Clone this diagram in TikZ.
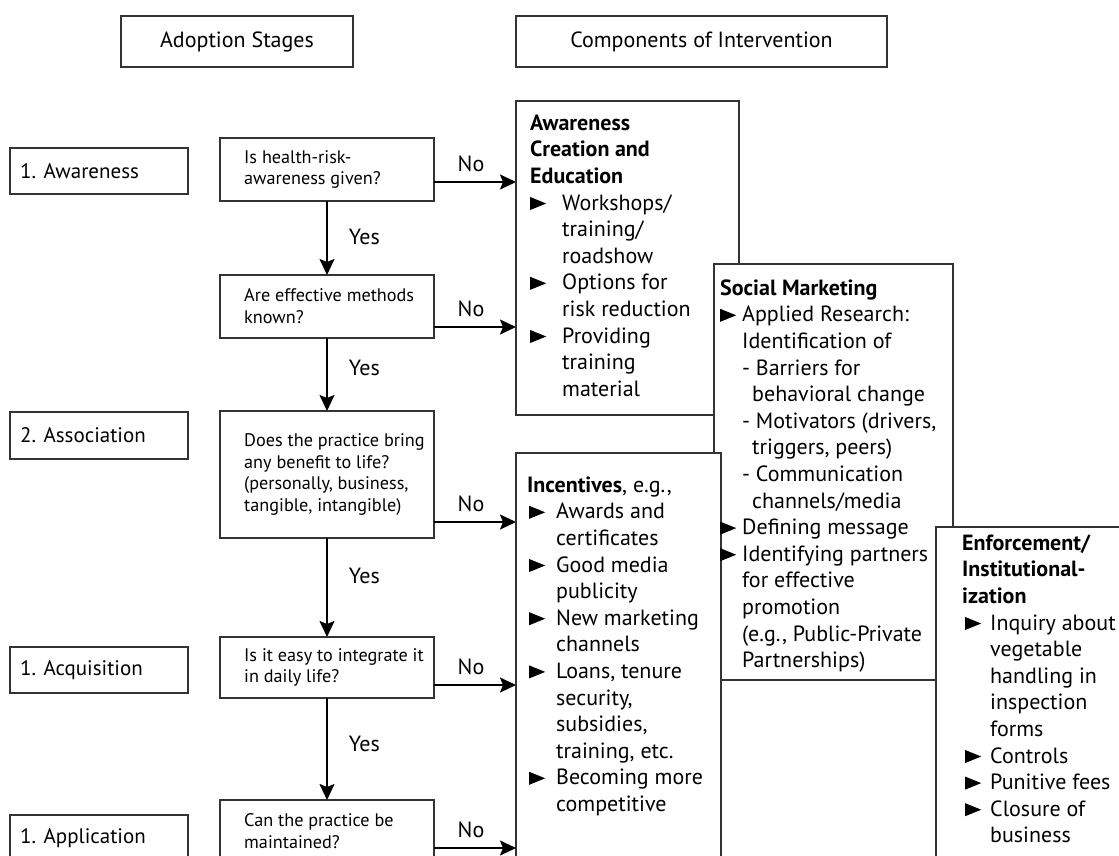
\documentclass[tikz,border=0pt]{standalone}
\usepackage{fontspec}
\setmainfont{PT Sans}
\usetikzlibrary{arrows.meta,calc}
\newcommand\bsz{\fontsize{22}{26.6}\selectfont}
\newcommand\ssz{\fontsize{21}{25}\selectfont}
\newcommand\qsz{\fontsize{18.2}{21.8}\selectfont}
\newcommand\tri{\tikz[baseline=0pt]\fill (0pt,0pt) -- (0pt,13pt) -- (16pt,6.5pt) -- cycle;}
\newcommand\bul[1]{\makebox[#1][l]{\tri}}
\newcommand\ind[1]{\hspace*{#1}}
\newcommand\fl{\rule{0pt}{20pt}}
\begin{document}
\begin{tikzpicture}[x=1pt,y=-1pt,
  box/.style={draw=black!80, line width=1.2pt, fill=white, anchor=north west, inner sep=0pt, outer sep=0pt},
  arr/.style={line width=1.9pt, -{Stealth[length=16pt,width=15pt,inset=3pt]}},
  lbl/.style={font=\bsz, inner sep=0pt},
  qtxt/.style={font=\qsz, align=left, inner sep=0pt, anchor=west},
  stxt/.style={font=\ssz, inner sep=0pt, anchor=west},
  ctxt/.style={font=\bsz, align=left, inner sep=0pt, anchor=north west}]
\useasboundingbox (0,0) rectangle (1119,855);
\clip (0,0) rectangle (1119,855);

% headers
\node[box, minimum width=232pt, minimum height=51pt, font=\bsz] (hA) at (121,16) {Adoption Stages};
\node[box, minimum width=371pt, minimum height=51pt, font=\bsz] (hC) at (516,16) {Components of Intervention};

% stage boxes
\node[box, minimum width=178pt, minimum height=46pt] (s1) at (10,148) {};
\node[stxt] (s1t) at ([xshift=10pt]s1.west) {1. Awareness};
\node[box, minimum width=178pt, minimum height=47pt] (s2) at (10,412) {};
\node[stxt] (s2t) at ([xshift=10pt]s2.west) {2. Association};
\node[box, minimum width=178pt, minimum height=46pt] (s3) at (10,647) {};
\node[stxt] (s3t) at ([xshift=10pt]s3.west) {1. Acquisition};
\node[box, minimum width=178pt, minimum height=47pt] (s4) at (10,815) {};
\node[stxt] (s4t) at ([xshift=10pt]s4.west) {1. Application};

% question boxes
\node[box, minimum width=214pt, minimum height=63pt] (q1) at (220,138) {};
\node[qtxt] (q1t) at ([xshift=24pt]q1.west) {Is health-risk-\\awareness given?};
\node[box, minimum width=214pt, minimum height=63pt] (q2) at (220,275) {};
\node[qtxt] (q2t) at ([xshift=24pt]q2.west) {Are effective methods\\known?};
\node[box, minimum width=214pt, minimum height=127pt] (q3) at (220,411) {};
\node[qtxt] (q3t) at ([xshift=24pt]q3.west) {Does the practice bring\\any benefit to life?\\(personally, business,\\tangible, intangible)};
\node[box, minimum width=214pt, minimum height=61pt] (q4) at (220,637) {};
\node[qtxt] (q4t) at ([xshift=24pt]q4.west) {Is it easy to integrate it\\in daily life?};
\node[box, minimum width=214pt, minimum height=63pt] (q5) at (220,800) {};
\node[qtxt] (q5t) at ([xshift=24pt]q5.west) {Can the practice be\\maintained?};

% component boxes
\node[box, minimum width=223pt, minimum height=314pt] (aw) at (516,101) {};
\node[ctxt] (awt) at (530,110) {\fl\textbf{Awareness}\\\textbf{Creation and}\\\textbf{Education}\\
\bul{32pt}Workshops/\\\ind{32pt}training/\\\ind{32pt}roadshow\\
\bul{32pt}Options for\\\ind{32pt}risk reduction\\
\bul{32pt}Providing\\\ind{32pt}training\\\ind{32pt}material};

\node[box, minimum width=239pt, minimum height=416pt] (soc) at (714,264) {};
\node[box, minimum width=205pt, minimum height=420pt] (inc) at (516,453) {};
\node[ctxt] (soct) at (720,275) {\fl\textbf{Social Marketing}\\
\bul{22pt}Applied Research:\\\ind{22pt}Identification of\\
\ind{22pt}- Barriers for\\\ind{32pt}behavioral change\\
\ind{22pt}- Motivators (drivers,\\\ind{32pt}triggers, peers)\\
\ind{22pt}- Communication\\\ind{32pt}channels/media\\
\bul{22pt}Defining message\\
\bul{22pt}Identifying partners\\\ind{22pt}for effective\\\ind{22pt}promotion\\
\ind{22pt}(e.g., Public-Private\\\ind{22pt}Partnerships)};
\node[ctxt] (inct) at (527,472) {\fl\textbf{Incentives}, e.g.,\\
\ind{2pt}\bul{27pt}Awards and\\\ind{29pt}certificates\\
\ind{2pt}\bul{27pt}Good media\\\ind{29pt}publicity\\
\ind{2pt}\bul{27pt}New marketing\\\ind{29pt}channels\\
\ind{2pt}\bul{27pt}Loans, tenure\\\ind{29pt}security,\\\ind{29pt}subsidies,\\\ind{29pt}training, etc.\\
\ind{2pt}\bul{27pt}Becoming more\\\ind{29pt}competitive};

\node[box, minimum width=200pt, minimum height=350pt] (enf) at (936,527) {};
\node[ctxt] (enft) at (962,530) {\fl\textbf{Enforcement/}\\\textbf{Institutional-}\\\textbf{ization}\\
\ind{3pt}\bul{25pt}Inquiry about\\\ind{28pt}vegetable\\\ind{28pt}handling in\\\ind{28pt}inspection\\\ind{28pt}forms\\
\ind{3pt}\bul{25pt}Controls\\
\ind{3pt}\bul{25pt}Punitive fees\\
\ind{3pt}\bul{25pt}Closure of\\\ind{28pt}business};

% Yes arrows
\draw[arr] (q1) -- (q2) node[lbl, anchor=west, pos=0.486, xshift=21pt] {Yes};
\draw[arr] (q2) -- (q3) node[lbl, anchor=west, pos=0.41, xshift=21pt] {Yes};
\draw[arr] (q3) -- (q4) node[lbl, anchor=west, pos=0.38, xshift=21pt] {Yes};
\draw[arr] (q4) -- (q5) node[lbl, anchor=west, pos=0.45, xshift=21pt] {Yes};

% No arrows
\coordinate (n1) at ([yshift=19pt]q1.south east);
\coordinate (n2) at ([yshift=11pt]q2.south east);
\coordinate (n3) at ([yshift=16pt]q3.south east);
\coordinate (n4) at ([yshift=13pt]q4.south east);
\coordinate (n5) at ([yshift=15pt]q5.south east);
\draw[arr] (n1) -- (n1 -| aw.west) node[lbl, midway, anchor=south, yshift=9pt, xshift=-4pt] {No};
\draw[arr] (n2) -- (n2 -| aw.west) node[lbl, midway, anchor=south, yshift=9pt, xshift=-4pt] {No};
\draw[arr] (n3) -- (n3 -| inc.west) node[lbl, midway, anchor=south, yshift=9pt, xshift=-4pt] {No};
\draw[arr] (n4) -- (n4 -| inc.west) node[lbl, midway, anchor=south, yshift=9pt, xshift=-4pt] {No};
\draw[arr] (n5) -- (n5 -| inc.west) node[lbl, midway, anchor=south, yshift=9pt, xshift=-4pt] {No};
\end{tikzpicture}
\end{document}
